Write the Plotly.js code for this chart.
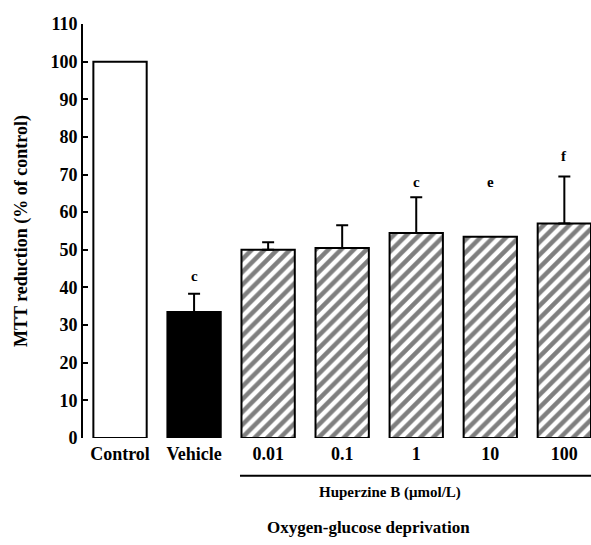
<!DOCTYPE html>
<html>
<head>
<meta charset="utf-8">
<script src="https://cdn.plot.ly/plotly-3.0.1.min.js"></script>
<style>html,body{margin:0;padding:0;background:#fff}#chart{width:591px;height:545px}</style>
</head>
<body>
<div id="chart"></div>
<script>
const categories = ["Control", "Vehicle", "0.01", "0.1", "1", "10", "100"];
const values = [100, 33.5, 50, 50.5, 54.5, 53.5, 57];
const errors = [undefined, 4.8, 2, 6, 9.5, undefined, 12.5];
const sigLabels = ["", "c", "", "", "c", "e", "f"];
const sigHeights = [0, 43, 0, 0, 68, 68, 75];
const groupLabel = "Huperzine B (μmol/L)";
const conditionLabel = "Oxygen-glucose deprivation";
const yTitle = "MTT reduction (% of control)";
const yTicks = [0, 10, 20, 30, 40, 50, 60, 70, 80, 90, 100, 110];

const fam = "Liberation Serif, Times New Roman, serif";
const font = {family: fam, size: 18, color: "#000"};
const idx = categories.map((c, i) => i);

function sub(arr, ids) { return ids.map(i => arr[i]); }
const plainIds = [0, 1];
const hatchIds = idx.filter(i => i >= 2);

const errStyle = {type: "data", visible: true, color: "#000", thickness: 2, width: 6, symmetric: false};
const minus = ids => ids.map(i => (errors[i] === undefined ? undefined : 0));

const traces = [
  {
    type: "bar",
    x: plainIds,
    y: sub(values, plainIds),
    width: 0.72,
    marker: {color: ["#ffffff", "#000000"], line: {color: "#000", width: 2}},
    error_y: Object.assign({array: sub(errors, plainIds), arrayminus: minus(plainIds)}, errStyle),
    hoverinfo: "none"
  },
  {
    type: "bar",
    x: hatchIds,
    y: sub(values, hatchIds),
    width: 0.72,
    marker: {
      color: "#ffffff",
      line: {color: "#000", width: 2},
      pattern: {shape: "/", fgcolor: "#000000", bgcolor: "#ffffff", fillmode: "overlay", size: 9, solidity: 0.5}
    },
    error_y: Object.assign({array: sub(errors, hatchIds), arrayminus: minus(hatchIds)}, errStyle),
    hoverinfo: "none"
  }
];

const annotations = [];
sigLabels.forEach((s, i) => {
  if (s) annotations.push({x: i, y: sigHeights[i], xref: "x", yref: "y", text: "<b>" + s + "</b>", showarrow: false, font: {family: fam, size: 15, color: "#000"}});
});
const firstGroup = 2, lastGroup = categories.length - 1;
annotations.push({x: 3.65, y: -0.158, xref: "x", yref: "paper", text: "<b>" + groupLabel + "</b>", showarrow: false, font: {family: fam, size: 15, color: "#000"}});
annotations.push({x: 3.35, y: -0.244, xref: "x", yref: "paper", text: "<b>" + conditionLabel + "</b>", showarrow: false, font: {family: fam, size: 17, color: "#000"}});

const layout = {
  width: 591, height: 545,
  margin: {l: 83, r: 0, t: 24, b: 107},
  paper_bgcolor: "#fff", plot_bgcolor: "#fff",
  showlegend: false,
  font: font,
  barmode: "overlay",
  xaxis: {
    range: [-0.5, 6.36],
    tickvals: idx,
    ticktext: categories.map(c => "<b>" + c + "</b>"),
    showline: false, showgrid: false, zeroline: false, ticks: "",
    ticklabelstandoff: 3,
    tickfont: font, fixedrange: true
  },
  yaxis: {
    range: [0, 110],
    tickvals: yTicks,
    ticktext: yTicks.map(t => "<b>" + t + "</b>"),
    showline: true, linecolor: "#000", linewidth: 2,
    ticks: "inside", ticklen: 5, tickwidth: 2, tickcolor: "#000",
    showgrid: false, zeroline: false,
    tickfont: font,
    title: {text: "<b>" + yTitle + "</b>", font: font, standoff: 18},
    fixedrange: true
  },
  shapes: [{
    type: "line", xref: "x", yref: "paper",
    x0: firstGroup - 0.38, x1: lastGroup + 0.5, y0: -0.091, y1: -0.091,
    line: {color: "#000", width: 2}
  }],
  annotations: annotations
};

Plotly.newPlot("chart", traces, layout, {displayModeBar: false});
</script>
</body>
</html>
